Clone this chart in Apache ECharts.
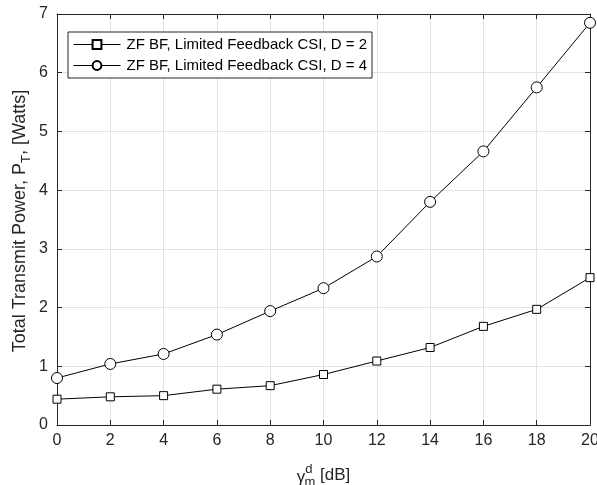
<!DOCTYPE html>
<html>
<head>
<meta charset="utf-8">
<script src="https://cdn.jsdelivr.net/npm/echarts@6/dist/echarts.min.js"></script>
<style>
  html, body { margin: 0; padding: 0; background: #fff; }
  #chart { width: 597px; height: 485px; }
</style>
</head>
<body>
<div id="chart"></div>
<script>
// SNR target in dB
const snrDb = [0, 2, 4, 6, 8, 10, 12, 14, 16, 18, 20];
// Total transmit power [W] for feedback sizes D = 2 and D = 4
const powerD2 = [0.44, 0.48, 0.50, 0.61, 0.67, 0.86, 1.09, 1.32, 1.68, 1.97, 2.51];
const powerD4 = [0.80, 1.04, 1.21, 1.54, 1.94, 2.33, 2.87, 3.80, 4.66, 5.75, 6.85];
const yTicks = [0, 1, 2, 3, 4, 5, 6, 7];
const seriesNames = [
  'ZF BF, Limited Feedback CSI, D = 2',
  'ZF BF, Limited Feedback CSI, D = 4'
];

const FONT = 'Liberation Sans, Arial, sans-serif';
const INK = '#262626';
const GRID = { left: 57, right: 7, top: 14, bottom: 60, outerBoundsMode: 'none', containLabel: false };

const chart = echarts.init(document.getElementById('chart'));

const toPairs = ys => snrDb.map((x, i) => [x, ys[i]]);

// mirrored axes on top / right close the box and carry inward ticks
const mirrorAxis = {
  axisLine: { show: true, onZero: false, lineStyle: { color: INK, width: 1 } },
  axisTick: { show: true, inside: true, length: 5, lineStyle: { color: INK } },
  axisLabel: { show: false },
  splitLine: { show: false }
};

chart.setOption({
  animation: false,
  backgroundColor: '#fff',
  grid: GRID,
  // vertical y-axis title, placed beside the tick labels
  graphic: [{
    type: 'text',
    x: 20, y: 221,
    rotation: Math.PI / 2,
    style: {
      text: '{t|Total Transmit Power, P}{s|T}{t|, [Watts]}',
      align: 'center', verticalAlign: 'middle',
      fill: INK,
      font: '18px ' + FONT,
      rich: {
        t: { fontFamily: FONT, fontSize: 18, fill: INK },
        s: { fontFamily: FONT, fontSize: 13, fill: INK, padding: [12, 0, 0, 0] }
      }
    }
  }],
  legend: {
    left: 68, top: 32,
    orient: 'vertical',
    itemGap: 6,
    itemWidth: 47,
    itemHeight: 11,
    padding: [5, 5, 5, 5],
    borderColor: INK,
    borderWidth: 1,
    backgroundColor: '#fff',
    lineStyle: { width: 1, color: '#000' },
    textStyle: { fontFamily: FONT, fontSize: 15, color: '#000', padding: [0, 0, 0, 1] },
    data: seriesNames
  },
  xAxis: [{
    type: 'value', min: 0, max: 20, interval: 2,
    name: '{g|γ}{sup|d}{sub|m}{t| [dB]}',
    nameLocation: 'middle', nameGap: 37,
    nameTextStyle: {
      fontFamily: FONT, fontSize: 17, color: INK,
      rich: {
        g: { fontFamily: FONT, fontSize: 17, color: INK, padding: [4, 0, 0, 0] },
        sup: { fontFamily: FONT, fontSize: 13, color: INK, padding: [0, 0, 12, 0] },
        sub: { fontFamily: FONT, fontSize: 13, color: INK, padding: [14, 0, 0, -8] },
        t: { fontFamily: FONT, fontSize: 17, color: INK }
      }
    },
    axisLine: { show: true, onZero: false, lineStyle: { color: INK, width: 1 } },
    axisTick: { show: true, inside: true, length: 5, lineStyle: { color: INK } },
    axisLabel: { fontFamily: FONT, fontSize: 16, color: INK, margin: 8 },
    splitLine: { show: true, lineStyle: { color: '#e3e3e3', width: 1 } }
  }, Object.assign({
    type: 'value', min: 0, max: 20, interval: 2, position: 'top'
  }, mirrorAxis)],
  yAxis: [{
    type: 'value', min: 0, max: 7, interval: 1,
    axisLine: { show: true, onZero: false, lineStyle: { color: INK, width: 1 } },
    axisTick: { show: true, inside: true, length: 5, lineStyle: { color: INK } },
    axisLabel: {
      fontFamily: FONT, fontSize: 16, color: INK, margin: 9,
      formatter: v => yTicks.includes(v) ? String(v) : ''
    },
    splitLine: { show: true, lineStyle: { color: '#e3e3e3', width: 1 } }
  }, Object.assign({
    type: 'value', min: 0, max: 7, interval: 1, position: 'right'
  }, mirrorAxis)],
  series: [{
    name: seriesNames[0],
    type: 'line',
    data: toPairs(powerD2),
    symbol: 'rect', symbolSize: 8,
    showAllSymbol: true,
    lineStyle: { color: '#000', width: 1 },
    itemStyle: { color: '#fff', borderColor: '#000', borderWidth: 1 },
    z: 3
  }, {
    name: seriesNames[1],
    type: 'line',
    data: toPairs(powerD4),
    symbol: 'circle', symbolSize: 11,
    showAllSymbol: true,
    lineStyle: { color: '#000', width: 1 },
    itemStyle: { color: '#fff', borderColor: '#000', borderWidth: 1 },
    z: 3
  }]
});
</script>
</body>
</html>
